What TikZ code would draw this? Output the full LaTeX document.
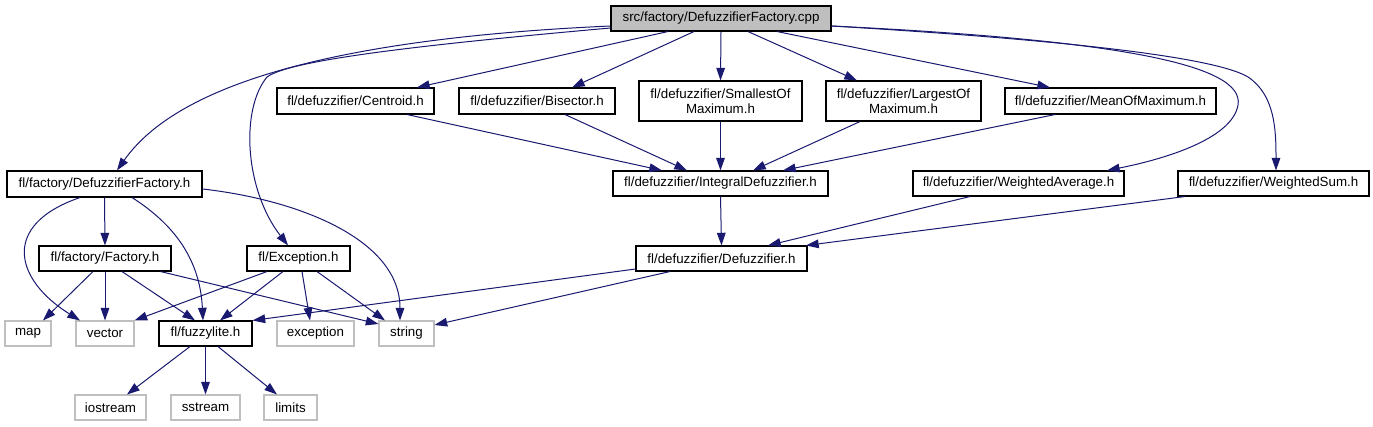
\documentclass[tikz,border=0pt]{standalone}
\usepackage{fontspec}
\setmainfont{Liberation Sans}
\usetikzlibrary{arrows.meta,calc}
\definecolor{edgeblue}{RGB}{25,25,112}
\definecolor{lgray}{RGB}{191,191,191}
\begin{document}
\begin{tikzpicture}[x=0.75pt,y=-0.75pt,
  every node/.style={font=\fontsize{10pt}{11.25pt}\selectfont, inner sep=0pt, align=center, text=black},
  w/.style={minimum width=#1*0.75pt},
  h/.style={minimum height=#1*0.75pt},
  nbox/.style={draw=black, line width=0.8pt, fill=white, minimum height=18.75pt},
  gbox/.style={draw=lgray, line width=0.8pt, fill=white, minimum height=18.75pt},
  rbox/.style={draw=black, line width=0.8pt, fill=lgray, minimum height=18.75pt},
  dep/.style={draw=edgeblue, line width=0.75pt, -{Triangle[length=9.5pt,width=6.5pt]}, shorten >=0pt}
]
\useasboundingbox (0,0) rectangle (1373,427);

% nodes
\node[rbox,w=220] (root) at (721,18.5) {src/factory/DefuzzifierFactory.cpp};
\node[nbox,w=157,h=26] (centroid) at (355.5,101) {fl/defuzzifier/Centroid.h};
\node[nbox,w=156,h=26] (bisector) at (537,101) {fl/defuzzifier/Bisector.h};
\node[nbox,w=163,h=40] (smallest) at (720.5,101) {fl/defuzzifier/SmallestOf\\Maximum.h};
\node[nbox,w=155,h=40] (largest) at (903.5,101) {fl/defuzzifier/LargestOf\\Maximum.h};
\node[nbox,w=211,h=26] (mean) at (1110.5,101) {fl/defuzzifier/MeanOfMaximum.h};
\node[nbox,w=215] (integral) at (720.5,183.5) {fl/defuzzifier/IntegralDefuzzifier.h};
\node[nbox,w=211] (wavg) at (1018.5,183.5) {fl/defuzzifier/WeightedAverage.h};
\node[nbox,w=191] (wsum) at (1273.5,183.5) {fl/defuzzifier/WeightedSum.h};
\node[nbox,w=195,h=26] (dfh) at (104.5,184) {fl/factory/DefuzzifierFactory.h};
\node[nbox,w=132] (factory) at (105,258.5) {fl/factory/Factory.h};
\node[nbox,w=103] (exch) at (298.5,258.5) {fl/Exception.h};
\node[nbox,w=171] (defuzz) at (721.5,258.5) {fl/defuzzifier/Defuzzifier.h};
\node[gbox,w=46] (map) at (28,333.5) {map};
\node[gbox,w=58] (vector) at (105,333.5) {vector};
\node[nbox,w=93] (fuzzy) at (205.5,333.5) {fl/fuzzylite.h};
\node[gbox,w=77] (exception) at (315.5,333.5) {exception};
\node[gbox,w=55] (string) at (406.5,333.5) {string};
\node[gbox,w=71] (iostream) at (110.5,407.5) {iostream};
\node[gbox,w=69] (sstream) at (205.5,407.5) {sstream};
\node[gbox,w=53] (limits) at (290.5,407.5) {limits};

% edges from root
\draw[dep] ($(root.west)+(0,7.5)$) .. controls (300,40) and (170,95) .. ($(dfh.north)+(12.5,0)$);
\draw[dep] ($(root.west)+(0,9.5)$) .. controls (420,45) and (290,60) .. (267,77)
   .. controls (240,110) and (245,190) .. ($(exch.north)+(-10.5,0)$);
\draw[dep] ($(root.south)+(-53,0)$) -- ($(centroid.north)+(61.5,0)$);
\draw[dep] ($(root.south)+(-27,0)$) -- ($(bisector.north)+(35,0)$);
\draw[dep] (root.south) -- (smallest.north);
\draw[dep] ($(root.south)+(27,0)$) -- ($(largest.north)+(-46.5,0)$);
\draw[dep] ($(root.south)+(56,0)$) -- ($(mean.north)+(-60.5,0)$);
\draw[dep] ($(root.east)+(0,7.5)$) .. controls (1120,40) and (1245,65) .. (1238,105)
   .. controls (1232,140) and (1160,160) .. ($(wavg.north)+(88.5,0)$);
\draw[dep] ($(root.east)+(0,7.5)$) .. controls (1100,42) and (1220,60) .. (1248,77)
   .. controls (1275,95) and (1276,130) .. ($(wsum.north)+(2.5,0)$);

% to integral
\draw[dep] ($(centroid.south)+(51.5,0)$) -- ($(integral.north)+(-58.5,0)$);
\draw[dep] ($(bisector.south)+(28,0)$) -- ($(integral.north)+(-33.5,0)$);
\draw[dep] (smallest.south) -- (integral.north);
\draw[dep] ($(largest.south)+(-43.5,0)$) -- ($(integral.north)+(32.5,0)$);
\draw[dep] ($(mean.south)+(-55.5,0)$) -- ($(integral.north)+(62.5,0)$);

% to defuzzifier
\draw[dep] (integral.south) -- (defuzz.north);
\draw[dep] ($(wavg.south)+(-48.5,0)$) -- ($(defuzz.north)+(46.5,0)$);
\draw[dep] ($(wsum.south)+(-88.5,0)$) -- ($(defuzz.north)+(84.5,0)$);

% from defuzzifier
\draw[dep] ($(defuzz.west)+(0,10.5)$) -- (fuzzy.north east);
\draw[dep] ($(defuzz.south)+(-51.5,0)$) -- ($(string.east)+(0,-8.5)$);

% from DefuzzifierFactory.h
\draw[dep] (dfh.south) -- (factory.north);
\draw[dep] ($(dfh.south)+(-24.5,0)$) .. controls (0,225) and (15,280) .. ($(vector.north)+(-25,0)$);
\draw[dep] ($(dfh.south)+(27.5,0)$) .. controls (175,225) and (200,260) .. ($(fuzzy.north)+(-2.5,0)$);
\draw[dep] ($(dfh.east)+(0,5)$) .. controls (300,200) and (400,240) .. ($(string.north)+(-6.5,0)$);

% from Factory.h
\draw[dep] ($(factory.south)+(-12,0)$) -- ($(map.north)+(15,0)$);
\draw[dep] (factory.south) -- (vector.north);
\draw[dep] ($(factory.south)+(17,0)$) -- ($(fuzzy.north)+(-10.5,0)$);
\draw[dep] ($(factory.south east)+(-11,0)$) -- ($(string.west)+(0,-9.5)$);

% from Exception.h
\draw[dep] ($(exch.south)+(-31.5,0)$) -- (vector.north east);
\draw[dep] ($(exch.south)+(-15.5,0)$) -- ($(fuzzy.north)+(14.5,0)$);
\draw[dep] ($(exch.south)+(3.5,0)$) -- ($(exception.north)+(-5.5,0)$);
\draw[dep] ($(exch.south)+(18.5,0)$) -- ($(string.north)+(-21.5,0)$);

% from fuzzylite.h
\draw[dep] ($(fuzzy.south)+(-15.5,0)$) -- ($(iostream.north)+(16.5,0)$);
\draw[dep] (fuzzy.south) -- (sstream.north);
\draw[dep] ($(fuzzy.south)+(12.5,0)$) -- ($(limits.north)+(-13.5,0)$);
\end{tikzpicture}
\end{document}
